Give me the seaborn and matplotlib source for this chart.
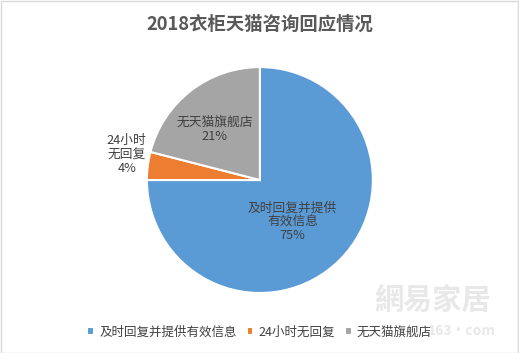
import matplotlib.pyplot as plt
import numpy as np
import seaborn as sns

sns.set_theme(style="white")
plt.rcParams['font.family'] = ['Noto Sans CJK SC', 'DejaVu Sans']

title = "2018衣柜天猫咨询回应情况"
categories = ["及时回复并提供有效信息", "24小时无回复", "无天猫旗舰店"]
slice_labels = ["及时回复并提供\n有效信息", "24小时\n无回复", "无天猫旗舰店"]
shares = [75, 4, 21]
colors = sns.color_palette(["#5B9BD5", "#ED7D31", "#A5A5A5"])

fig = plt.figure(figsize=(5.19, 3.53), dpi=100)
ax = fig.add_axes([0.283, 0.170, 0.4355, 0.640])

wedges, _ = ax.pie(shares, colors=colors, startangle=90, counterclock=False,
                   wedgeprops=dict(edgecolor="white", linewidth=1.5))
ax.set_xlim(-1, 1)
ax.set_ylim(-1, 1)
ax.set_aspect("equal")

# label placement per slice (radius, angle tweak)
label_pos = [(0.47, -7), (1.2, -3.5), (0.6, 4)]
for w, lab, val, (r, tweak) in zip(wedges, slice_labels, shares, label_pos):
    mid = (w.theta1 + w.theta2) / 2 + tweak
    x, y = r * np.cos(np.radians(mid)), r * np.sin(np.radians(mid))
    ax.text(x, y, f"{lab}\n{val}%", ha="center", va="center",
            fontsize=9.2, color="#404040", linespacing=1.1, clip_on=False)

fig.text(0.5, 0.93, title, ha="center", va="center", fontsize=13.2,
         fontweight="bold", color="#595959")

# faint watermark
fig.text(0.834, 0.15, "網易家居", ha="center", va="center", fontsize=21,
         color="#e8e8e8", fontweight="bold")
fig.text(0.89, 0.062, "163·com", ha="center", va="center", fontsize=10,
         color="#e8e8e8", fontweight="bold")

leg = fig.legend(wedges, categories, loc="center", bbox_to_anchor=(0.5, 0.06),
                 ncol=3, frameon=False, fontsize=9, handlelength=0.55,
                 handleheight=0.55, handletextpad=0.4, columnspacing=0.8,
                 labelcolor="#404040")

fig.patches.append(plt.Rectangle((0.001, 0.001), 0.997, 0.997, transform=fig.transFigure,
                                 fill=False, edgecolor="#d9d9d9", linewidth=1))

fig.savefig("out.png", dpi=100, facecolor="white")
